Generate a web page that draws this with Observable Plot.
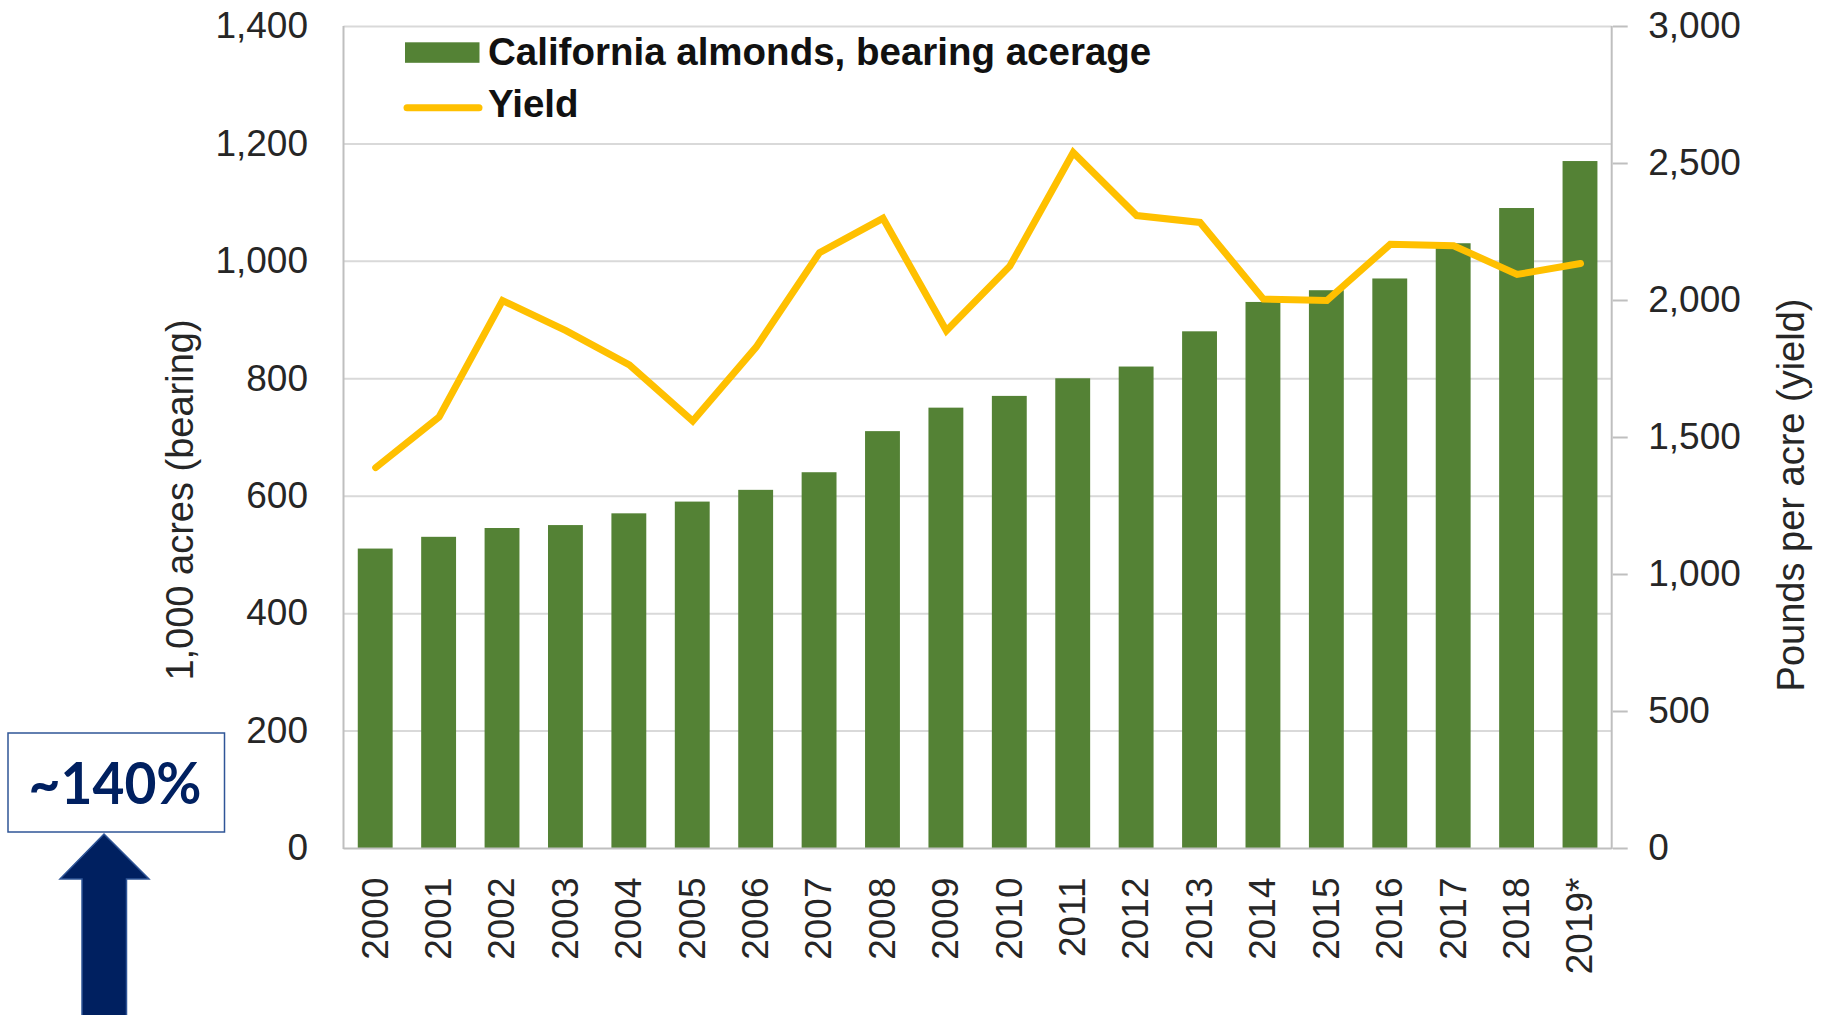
<!DOCTYPE html>
<html>
<head>
<meta charset="utf-8">
<script src="https://cdn.jsdelivr.net/npm/d3@7"></script>
<script src="https://cdn.jsdelivr.net/npm/@observablehq/plot@0.6"></script>
<style>
  html, body { margin: 0; padding: 0; background: #fff; }
  #wrap { position: relative; width: 1825px; height: 1015px; overflow: hidden; background: #fff; }
  #chart { position: absolute; left: 0; top: 0; }
  #overlay { position: absolute; left: 0; top: 0; pointer-events: none; }
</style>
</head>
<body>
<div id="wrap">
  <div id="chart"></div>
  <svg id="overlay" width="1825" height="1015" xmlns="http://www.w3.org/2000/svg"></svg>
</div>
<script>
// ---- Data ----
const years = ["2000","2001","2002","2003","2004","2005","2006","2007","2008","2009",
               "2010","2011","2012","2013","2014","2015","2016","2017","2018","2019*"];
const bearingAcres = [510, 530, 545, 550, 570, 590, 610, 640, 710, 750,
                      770, 800, 820, 880, 930, 950, 970, 1030, 1090, 1170];
const yieldLbsPerAcre = [1390, 1575, 2000, 1890, 1765, 1560, 1830, 2175, 2300, 1890,
                         2125, 2540, 2310, 2285, 2005, 2000, 2205, 2200, 2095, 2135];
const leftTicks = [0, 200, 400, 600, 800, 1000, 1200, 1400];
const rightTicks = [0, 500, 1000, 1500, 2000, 2500, 3000];
const seriesNames = ["California almonds, bearing acerage", "Yield"];
const leftTitle = "1,000 acres (bearing)";
const rightTitle = "Pounds per acre (yield)";
const annotationText = "~140%";

const LEFT_MAX = leftTicks[leftTicks.length - 1];
const RIGHT_MAX = rightTicks[rightTicks.length - 1];
const toLeft = v => v * LEFT_MAX / RIGHT_MAX;
const toRight = v => Math.round(v * RIGHT_MAX / LEFT_MAX);

const table = years.map((year, i) => ({
  year, acres: bearingAcres[i], yieldScaled: toLeft(yieldLbsPerAcre[i])
}));

const GREEN = "#548235", GOLD = "#FFC000", GRID = "#d9d9d9", AXIS = "#bfbfbf", TEXT = "#262626";
const fmt = d3.format(",");

const chart = Plot.plot({
  width: 1825,
  height: 1015,
  marginLeft: 343.5,
  marginRight: 213.3,
  marginTop: 26,
  marginBottom: 167,
  style: {fontFamily: "'Liberation Sans', Arial, sans-serif", fontSize: "37px", color: TEXT, background: "transparent", overflow: "visible"},
  x: {type: "band", domain: years, paddingInner: 0.45, paddingOuter: 0.225, round: false, label: null},
  y: {domain: [0, LEFT_MAX], label: null},
  marks: [
    Plot.gridY(leftTicks.filter(d => d > 0), {stroke: GRID, strokeOpacity: 1, strokeWidth: 2}),
    (index, scales, values, dims) => {
      const g = d3.create("svg:g").attr("stroke", AXIS).attr("stroke-width", 2);
      const x0 = dims.marginLeft, x1 = dims.width - dims.marginRight;
      const y0 = dims.marginTop, y1 = dims.height - dims.marginBottom;
      g.append("line").attr("x1", x0).attr("x2", x0).attr("y1", y0).attr("y2", y1 + 1);
      g.append("line").attr("x1", x1).attr("x2", x1).attr("y1", y0).attr("y2", y1 + 1);
      return g.node();
    },
    Plot.barY(table, {x: "year", y: "acres", fill: GREEN}),
    Plot.ruleY([0], {stroke: AXIS, strokeWidth: 2}),
    Plot.line(table, {x: "year", y: "yieldScaled", stroke: GOLD, strokeWidth: 7, strokeLinejoin: "miter", strokeMiterlimit: 4}),
    Plot.axisY(leftTicks, {anchor: "left", tickSize: 0, tickPadding: 36, tickFormat: fmt, label: null, fontSize: 37, fill: TEXT}),
    Plot.axisY(rightTicks.map(toLeft), {anchor: "right", tickSize: 15, tickPadding: 21, stroke: AXIS, strokeWidth: 2, fill: TEXT,
      tickFormat: d => fmt(toRight(d)), label: null, fontSize: 37}),
    Plot.axisX(years, {anchor: "bottom", tickRotate: -90, tickSize: 0, tickPadding: 29, label: null, fontSize: 37, fill: TEXT})
  ]
});
document.getElementById("chart").appendChild(chart);

// ---- Overlay: legend, axis titles, annotation ----
const ov = d3.select("#overlay");
const font = "'Liberation Sans', Arial, sans-serif";

// legend
ov.append("rect").attr("x", 405).attr("y", 42.3).attr("width", 74.5).attr("height", 20.5).attr("fill", GREEN);
ov.append("line").attr("x1", 407).attr("x2", 479).attr("y1", 107.7).attr("y2", 107.7)
  .attr("stroke", GOLD).attr("stroke-width", 7).attr("stroke-linecap", "round");
ov.append("text").attr("x", 488).attr("y", 65).attr("font-family", font).attr("font-weight", "bold")
  .attr("font-size", 38.5).attr("fill", "#111").text(seriesNames[0]);
ov.append("text").attr("x", 488).attr("y", 117.3).attr("font-family", font).attr("font-weight", "bold")
  .attr("font-size", 38.5).attr("fill", "#111").text(seriesNames[1]);

// axis titles
ov.append("text").attr("transform", "translate(193,500) rotate(-90)").attr("text-anchor", "middle")
  .attr("font-family", font).attr("font-size", 38).attr("fill", TEXT).text(leftTitle);
ov.append("text").attr("transform", "translate(1804,495) rotate(-90)").attr("text-anchor", "middle")
  .attr("font-family", font).attr("font-size", 38).attr("fill", TEXT).text(rightTitle);

// annotation box + arrow
ov.append("rect").attr("x", 8).attr("y", 733).attr("width", 216.5).attr("height", 99)
  .attr("fill", "#fff").attr("stroke", "#2F5597").attr("stroke-width", 1.5);
ov.append("text").attr("x", 115).attr("y", 804).attr("text-anchor", "middle")
  .attr("font-family", "Lato, 'Liberation Sans', sans-serif").attr("font-weight", "bold")
  .attr("font-size", 58).attr("fill", "#002060")
  .attr("textLength", 173).attr("lengthAdjust", "spacingAndGlyphs").text(annotationText);
ov.append("path")
  .attr("d", "M104,834 L149,879 L126.5,879 L126.5,1020 L82,1020 L82,879 L60,879 Z")
  .attr("fill", "#002060").attr("stroke", "#2F5597").attr("stroke-width", 1.5);
</script>
</body>
</html>
